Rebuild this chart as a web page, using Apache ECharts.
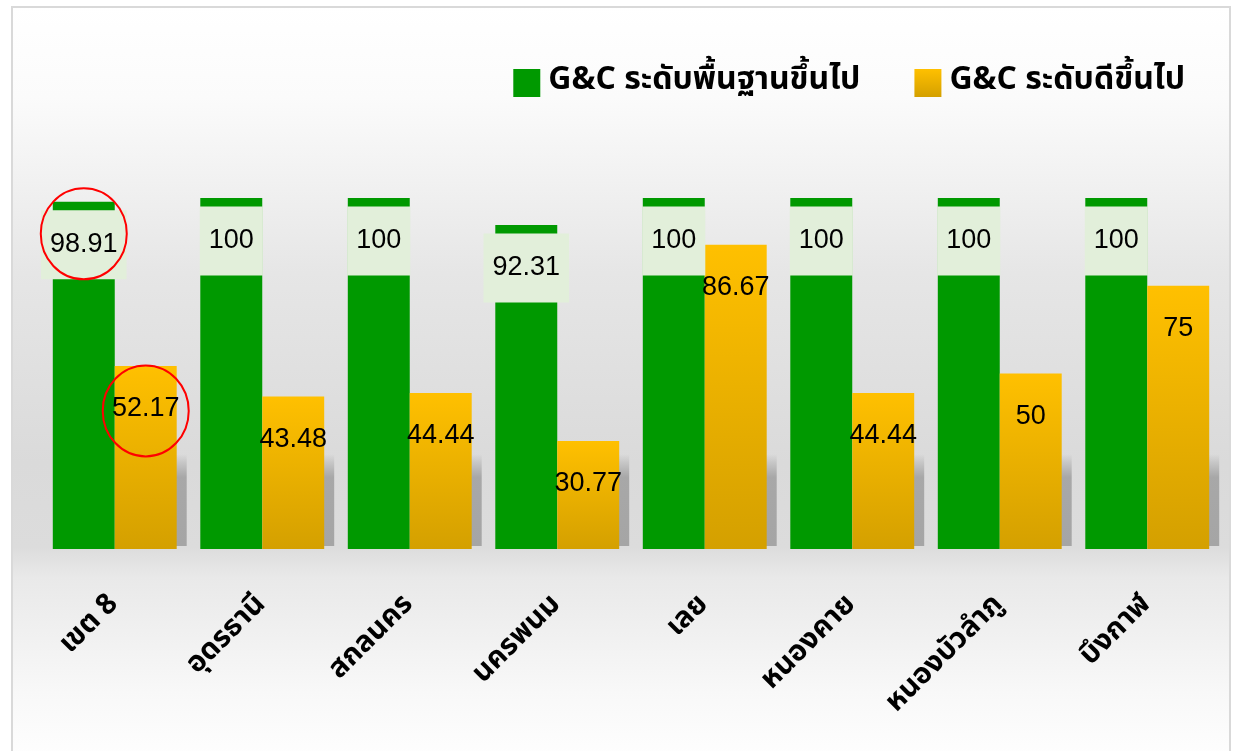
<!DOCTYPE html>
<html>
<head>
<meta charset="utf-8">
<script src="https://cdn.jsdelivr.net/npm/echarts@6/dist/echarts.min.js"></script>
<style>
html,body{margin:0;padding:0;background:#fff;}
#chart{width:1236px;height:751px;}
</style>
</head>
<body>
<div id="chart"></div>
<script>
const categories = ['เขต 8', 'อุดรธานี', 'สกลนคร', 'นครพนม', 'เลย', 'หนองคาย', 'หนองบัวลำภู', 'บึงกาฬ'];
const seriesNames = ['G&C ระดับพื้นฐานขึ้นไป', 'G&C ระดับดีขึ้นไป'];
const basicValues = [98.91, 100, 100, 92.31, 100, 100, 100, 100];
const goodValues = [52.17, 43.48, 44.44, 30.77, 86.67, 44.44, 50, 75];
const highlighted = [[0, 0], [1, 0]]; // [seriesIndex, categoryIndex] circled in red

const thaiFont = "'Noto Sans Thai', 'Leelawadee UI', Tahoma, 'Noto Sans', 'DejaVu Sans', sans-serif";
const numFont = "'Liberation Sans', Arial, sans-serif";

const chart = echarts.init(document.getElementById('chart'), null, {renderer: 'canvas'});

const goldGrad = new echarts.graphic.LinearGradient(0, 0, 0, 1, [
  {offset: 0, color: '#FFC000'},
  {offset: 1, color: '#D4A000'}
]);

const option = {
  animation: false,
  backgroundColor: '#ffffff',
  graphic: [{
    type: 'rect',
    z: -10,
    silent: true,
    shape: {x: 12, y: 7, width: 1218, height: 760},
    style: {
      fill: new echarts.graphic.LinearGradient(0, 0, 0, 1, [
        {offset: 0, color: '#ffffff'},
        {offset: 0.12, color: '#fbfbfb'},
        {offset: 0.35, color: '#e6e6e6'},
        {offset: 0.6, color: '#dadada'},
        {offset: 0.71, color: '#dcdcdc'},
        {offset: 0.75, color: '#e9e9e9'},
        {offset: 0.9, color: '#f8f8f8'},
        {offset: 1, color: '#ffffff'}
      ]),
      stroke: '#d9d9d9',
      lineWidth: 2
    }
  }],
  legend: {
    right: 46,
    top: 62,
    itemWidth: 27,
    itemHeight: 28,
    itemGap: 54,
    icon: 'rect',
    textStyle: {fontSize: 32, fontWeight: 'bold', color: '#000', fontFamily: thaiFont, padding: [0, 0, 0, 3]},
    data: seriesNames
  },
  grid: {left: 41, right: 15, top: 198, bottom: 202, containLabel: false, outerBoundsMode: 'none'},
  xAxis: {
    type: 'category',
    data: categories,
    axisLine: {show: false},
    axisTick: {show: false},
    axisLabel: {
      rotate: 45,
      margin: 52,
      interval: 0,
      fontSize: 29,
      fontWeight: 'bold',
      color: '#000',
      fontFamily: thaiFont
    }
  },
  yAxis: {type: 'value', min: 0, max: 100, show: false, splitLine: {show: false}},
  series: [
    {
      type: 'custom',
      name: 'shadow',
      z: 1,
      silent: true,
      data: categories.map((c, i) => [i]),
      renderItem: function (params, api) {
        const i = api.value(0);
        const base = api.coord([i, 0]);
        const top = api.coord([i, 27]);
        const band = api.size([1, 0])[0];
        const half = band * 0.84 / 2;
        const x0 = base[0] + half - 30;
        return {
          type: 'rect',
          shape: {x: x0, y: top[1], width: 40, height: base[1] - top[1] - 3},
          style: {
            fill: new echarts.graphic.LinearGradient(0, 0, 0, 1, [
              {offset: 0, color: 'rgba(160,160,160,0)'},
              {offset: 0.25, color: 'rgba(165,165,165,0.95)'},
              {offset: 1, color: 'rgba(165,165,165,1)'}
            ]),
            shadowBlur: 10,
            shadowOffsetX: 3,
            shadowColor: 'rgba(150,150,150,1)'
          }
        };
      }
    },
    {
      name: seriesNames[0],
      type: 'bar',
      z: 3,
      barGap: 0,
      barCategoryGap: '16%',
      itemStyle: {color: '#009900'},
      label: {
        show: true,
        position: ['50%', 43],
        align: 'center',
        verticalAlign: 'middle',
        fontSize: 27,
        lineHeight: 27,
        color: '#000',
        fontFamily: numFont,
        backgroundColor: '#E2EFDA',
        padding: [21, 9]
      },
      data: basicValues
    },
    {
      name: seriesNames[1],
      type: 'bar',
      z: 3,
      barGap: 0,
      barCategoryGap: '16%',
      itemStyle: {color: goldGrad},
      label: {
        show: true,
        position: ['50%', 43],
        align: 'center',
        verticalAlign: 'middle',
        fontSize: 27,
        color: '#000',
        fontFamily: numFont
      },
      data: goodValues
    }
  ]
};
chart.setOption(option);

// red ellipses around highlighted labels, positioned from the data via the axes
const valuesBySeries = [basicValues, goodValues];
const p0 = chart.convertToPixel({gridIndex: 0}, [0, 0]);
const p1 = chart.convertToPixel({gridIndex: 0}, [1, 0]);
const band = p1[0] - p0[0];
const barW = band * 0.84 / 2;
const circles = highlighted.map(function (h) {
  const s = h[0], c = h[1];
  const pt = chart.convertToPixel({gridIndex: 0}, [c, valuesBySeries[s][c]]);
  const cx = pt[0] + (s === 0 ? -barW / 2 : barW / 2);
  const cy = pt[1] + (s === 0 ? 32 : 45);
  return {
    type: 'ellipse',
    z: 100,
    silent: true,
    shape: {cx: cx, cy: cy, rx: 43, ry: 45.5},
    style: {fill: 'none', stroke: '#ff0000', lineWidth: 2}
  };
});
chart.setOption({graphic: option.graphic.concat(circles)});
</script>
</body>
</html>
